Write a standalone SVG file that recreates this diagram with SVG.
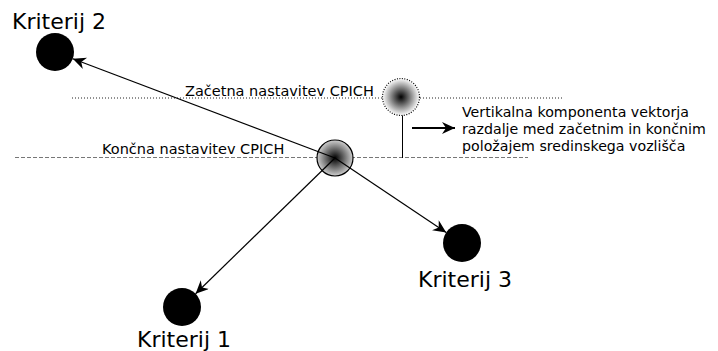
<svg xmlns="http://www.w3.org/2000/svg" width="718" height="351" viewBox="0 0 718 351">
<defs>
<style>
text{font-family:"DejaVu Sans","Liberation Sans",sans-serif;fill:#000}
.big{font-size:22px}
.lbl{font-size:14.5px}
.note{font-size:14.2px}
.node{fill:#000}
.conn{stroke:#000;stroke-width:1.2;fill:none}
</style>
<radialGradient id="gFinal" cx="0.5" cy="0.5" r="0.5">
<stop offset="0" stop-color="#000"/>
<stop offset="1" stop-color="#cfcfcf"/>
</radialGradient>
<radialGradient id="gStart" cx="0.5" cy="0.5" r="0.5">
<stop offset="0" stop-color="#000"/>
<stop offset="1" stop-color="#fff"/>
</radialGradient>
<marker id="arr" markerUnits="userSpaceOnUse" markerWidth="16" markerHeight="14" refX="13" refY="6" orient="auto">
<path d="M13,6 L0,0 L4,6 L0,12 Z" fill="#000"/>
</marker>
</defs>
<g id="lines">
<line x1="72" y1="98" x2="563" y2="98" stroke="#222" stroke-width="1" stroke-dasharray="1,2"/>
<line x1="15" y1="157.5" x2="528" y2="157.5" stroke="#777" stroke-width="1.2" stroke-dasharray="4,2"/>
<text class="lbl" x="185" y="96">Začetna nastavitev CPICH</text>
<text class="lbl" x="102" y="154">Končna nastavitev CPICH</text>
</g>
<g id="start">
<circle cx="401" cy="97" r="18.5" fill="url(#gStart)" stroke="#000" stroke-width="1.2" stroke-dasharray="1,1.5"/>
</g>
<g id="final">
<circle cx="335" cy="158" r="18" fill="url(#gFinal)" stroke="#000" stroke-width="1.2"/>
</g>
<g id="k2">
<circle class="node" cx="55" cy="52" r="19"/>
<text class="big" x="12" y="29">Kriterij 2</text>
</g>
<g id="k3">
<circle class="node" cx="462" cy="243" r="19"/>
<text class="big" x="418" y="287">Kriterij 3</text>
</g>
<g id="k1">
<circle class="node" cx="182" cy="307" r="19"/>
<text class="big" x="137" y="347">Kriterij 1</text>
</g>
<g id="note">
<text class="note" x="462" y="117">Vertikalna komponenta vektorja</text>
<text class="note" x="462" y="134">razdalje med začetnim in končnim</text>
<text class="note" x="462" y="151">položajem sredinskega vozlišča</text>
</g>
<g id="connectors">
<line class="conn" x1="335" y1="158" x2="72.8" y2="58.7" marker-end="url(#arr)"/>
<line class="conn" x1="335" y1="158" x2="195.6" y2="293.7" marker-end="url(#arr)"/>
<line class="conn" x1="335" y1="158" x2="446.2" y2="232.4" marker-end="url(#arr)"/>
<line x1="402.5" y1="115.5" x2="402.5" y2="158" stroke="#000" stroke-width="1"/>
<line x1="412" y1="128" x2="455" y2="128" stroke="#000" stroke-width="2" marker-end="url(#arr)"/>
</g>
</svg>
